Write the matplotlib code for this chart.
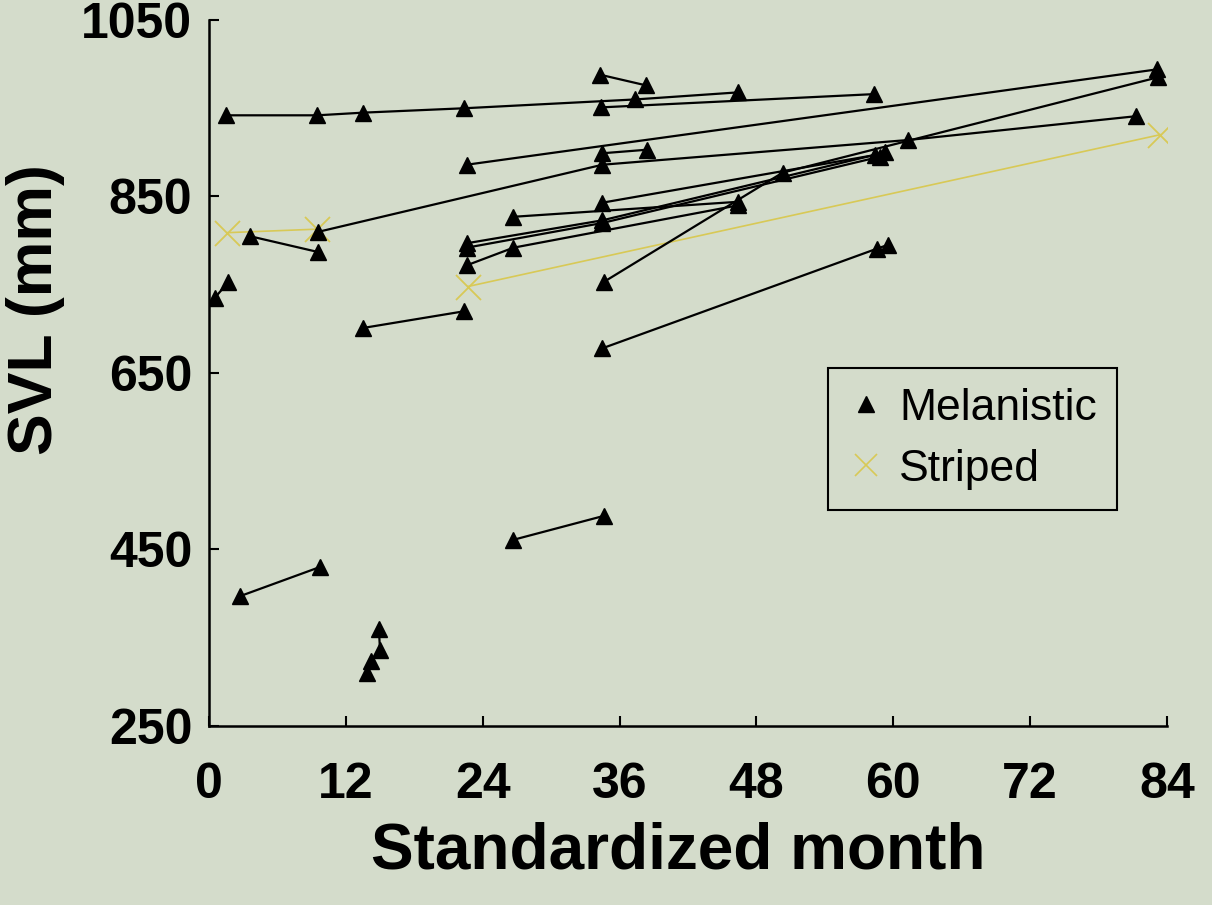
import matplotlib.pyplot as plt
from matplotlib.lines import Line2D

# Growth tracks of individual snakes (one list per recaptured animal)
mel_months = [
    [34.3, 38.3],
    [1.5, 9.5, 13.5, 22.4, 37.4, 46.4],
    [34.4, 58.3],
    [22.6, 83.1],
    [34.5, 38.4],
    [9.6, 34.5, 61.3, 81.3],
    [34.6, 50.3, 83.2],
    [34.5, 58.4],
    [26.7, 46.4],
    [22.6, 34.5, 59.3],
    [22.6, 34.5, 58.8],
    [22.6, 26.7, 46.4],
    [3.6, 9.6],
    [0.5, 1.7],
    [13.5, 22.4],
    [34.5, 58.6, 59.5],
    [26.7, 34.6],
    [2.7, 9.7],
    [13.9, 14.2, 15.0, 14.9],
]
mel_svl = [
    [988, 976],
    [942, 942, 945, 950, 960, 968],
    [951, 966],
    [886, 994],
    [899, 903],
    [810, 886, 914, 941],
    [753, 877, 985],
    [843, 897],
    [827, 844],
    [797, 823, 900],
    [792, 820, 895],
    [772, 792, 840],
    [805, 787],
    [735, 753],
    [701, 720],
    [678, 791, 795],
    [461, 488],
    [397, 430],
    [310, 324, 336, 360],
]

str_months = [[1.6, 9.5], [22.7, 83.4]]
str_svl = [[809, 813], [748, 920]]

x_ticks = [0, 12, 24, 36, 48, 60, 72, 84]
y_ticks = [250, 450, 650, 850, 1050]

bg = "#d4dccb"
yellow = "#d8c956"
font = ["Liberation Sans", "DejaVu Sans"]

fig = plt.figure(figsize=(12.12, 9.05), dpi=100, facecolor=bg)
ax = fig.add_axes([0.1724, 0.1978, 0.7904, 0.7801])
ax.set_facecolor(bg)

for xs, ys in zip(str_months, str_svl):
    ax.plot(xs, ys, color=yellow, linewidth=1.2, marker="x",
            markersize=18, markeredgewidth=1.3, zorder=2)

for xs, ys in zip(mel_months, mel_svl):
    ax.plot(xs, ys, color="black", linewidth=1.6, marker="^",
            markersize=12, zorder=3)

ax.set_xlim(0, 84)
ax.set_ylim(250, 1050)
ax.set_xticks(x_ticks)
ax.set_yticks(y_ticks)

for side in ["top", "right"]:
    ax.spines[side].set_visible(False)
for side in ["left", "bottom"]:
    ax.spines[side].set_linewidth(1.8)

ax.tick_params(direction="in", length=7, width=1.5)
ax.tick_params(axis="x", pad=26)
ax.tick_params(axis="y", pad=12)
for lab in ax.get_xticklabels() + ax.get_yticklabels():
    lab.set_family(font)
    lab.set_fontweight("bold")
    lab.set_fontsize(36)

ax.set_xlabel("Standardized month", fontsize=46, fontweight="bold",
              family=font)
ax.xaxis.set_label_coords(0.49, -0.135)
ax.set_ylabel("SVL (mm)", fontsize=45, fontweight="bold", family=font)
ax.yaxis.set_label_coords(-0.15, 0.59)

handles = [
    Line2D([], [], color="black", marker="^", linestyle="none", markersize=11),
    Line2D([], [], color=yellow, marker="x", linestyle="none",
           markersize=16, markeredgewidth=1.2),
]
leg = ax.legend(handles, ["Melanistic", "Striped"], loc="upper left",
                bbox_to_anchor=(0.646, 0.507), borderaxespad=0,
                prop={"family": font, "size": 32}, frameon=True,
                fancybox=False, facecolor=bg, edgecolor="black",
                handletextpad=0.35, handlelength=0.8, borderpad=0.45,
                labelspacing=0.45, framealpha=1)
leg.get_frame().set_linewidth(1.5)

plt.savefig("out.png", dpi=100, facecolor=bg)
plt.close()
